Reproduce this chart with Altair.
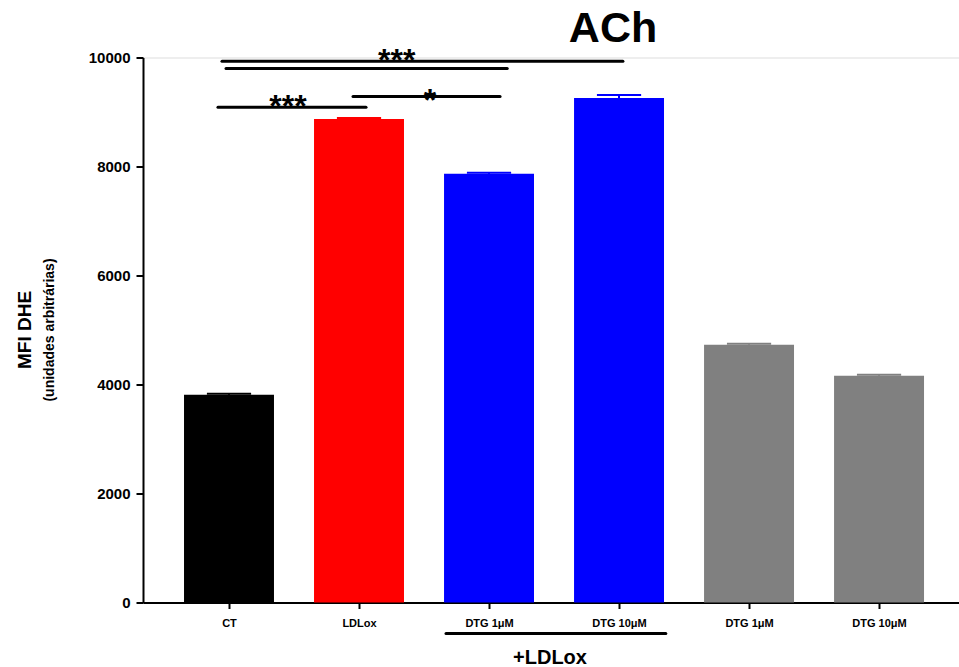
import altair as alt
import pandas as pd

# ---- data ----
labels = ["CT", "LDLox", "DTG 1μM", "DTG 10μM", "DTG 1μM", "DTG 10μM"]
means = [3810, 8870, 7865, 9255, 4730, 4160]
errors = [20, 20, 20, 55, 20, 20]
colors = ["#000000", "#ff0000", "#0000ff", "#0000ff", "#808080", "#808080"]

# significance brackets: start, end (category units), level (MFI), label
sig_x1 = [-0.054, -0.023, -0.085, 0.954]
sig_x2 = [3.03, 2.14, 1.054, 2.085]
sig_y = [9930, 9800, 9085, 9285]
star_text = ["***", "***", "*"]
star_x = [1.29, 0.454, 1.546]
star_y = [9930, 9085, 9285]
star_dy = [10, 10, 15]

FONT = "Liberation Sans"
HALF = 0.346
CAP = 0.17

pos = list(range(len(labels)))
bars = pd.DataFrame({
    "pos": pos,
    "x1": [p - HALF for p in pos],
    "x2": [p + HALF for p in pos],
    "c1": [p - CAP for p in pos],
    "c2": [p + CAP for p in pos],
    "mean": means,
    "base": [0] * len(pos),
    "top": [m + e for m, e in zip(means, errors)],
    "color": colors,
})
sig = pd.DataFrame({"x1": sig_x1, "x2": sig_x2, "y": sig_y})
stars = pd.DataFrame({"t": star_text, "x": star_x, "y": star_y, "dy": star_dy})

label_js = "[" + ",".join("'" + l + "'" for l in labels) + "]"

xscale = alt.Scale(domain=[-0.6615, 5.615], nice=False, zero=False, padding=0)
yscale = alt.Scale(domain=[0, 10000], nice=False, padding=0)

xaxis = alt.Axis(values=pos, labelExpr=label_js + "[datum.value]", title=None,
                 grid=False, domainColor="black", domainWidth=2, tickColor="black",
                 tickWidth=2, tickSize=6, labelFont=FONT, labelFontWeight="bold",
                 labelFontSize=11, labelColor="black", labelPadding=9,
                 labelOverlap=False, labelFlush=False)
yaxis = alt.Axis(values=[0, 2000, 4000, 6000, 8000, 10000], format="d", title=None,
                 grid=False, domainColor="black", domainWidth=2, tickColor="black",
                 tickWidth=2, tickSize=7, labelFont=FONT, labelFontWeight="bold",
                 labelFontSize=15, labelColor="black", labelPadding=6)

base = alt.Chart(bars)

bar_layer = base.mark_bar(clip=False).encode(
    x=alt.X("x1:Q", scale=xscale, axis=xaxis),
    x2="x2:Q",
    y=alt.Y("mean:Q", scale=yscale, axis=yaxis),
    y2="base:Q",
    color=alt.Color("color:N", scale=None),
)
err_v = base.mark_rule(strokeWidth=2).encode(
    x="pos:Q", y="mean:Q", y2="top:Q", color=alt.Color("color:N", scale=None))
err_cap = base.mark_rule(strokeWidth=2).encode(
    x="c1:Q", x2="c2:Q", y="top:Q", color=alt.Color("color:N", scale=None))

sig_lines = alt.Chart(sig).mark_rule(color="black", strokeWidth=3, strokeCap="round",
                                     clip=False).encode(
    x="x1:Q", x2="x2:Q", y="y:Q")

star_layers = []
for i in range(len(star_text)):
    star_layers.append(
        alt.Chart(stars.iloc[[i]]).mark_text(font=FONT, fontWeight="bold", fontSize=32,
                                             color="black", baseline="alphabetic",
                                             align="center", dy=star_dy[i]).encode(
            x="x:Q", y="y:Q", text="t:N"))

ann = pd.DataFrame({
    "t": ["ACh", "+LDLox", "MFI DHE", "(unidades arbitrárias)"],
    "x": [2.954, 2.469, -1.569, -1.377],
    "y": [10285, -1010, 5000, 5000],
})
title_t = alt.Chart(ann.iloc[[0]]).mark_text(font=FONT, fontWeight="bold", fontSize=43,
                                             color="black", baseline="alphabetic").encode(
    x="x:Q", y="y:Q", text="t:N")
ldl_t = alt.Chart(ann.iloc[[1]]).mark_text(font=FONT, fontWeight="bold", fontSize=20,
                                           color="black", baseline="middle").encode(
    x="x:Q", y="y:Q", text="t:N")
ytitle1 = alt.Chart(ann.iloc[[2]]).mark_text(font=FONT, fontWeight="bold", fontSize=19,
                                             color="black", baseline="middle",
                                             angle=270).encode(
    x="x:Q", y="y:Q", text="t:N")
ytitle2 = alt.Chart(ann.iloc[[3]]).mark_text(font=FONT, fontWeight="bold", fontSize=14,
                                             color="black", baseline="middle",
                                             angle=270).encode(
    x="x:Q", y="y:Q", text="t:N")

under = pd.DataFrame({"x1": [1.669], "x2": [3.36], "y": [-568]})
underline = alt.Chart(under).mark_rule(color="black", strokeWidth=3, strokeCap="round",
                                       clip=False).encode(
    x="x1:Q", x2="x2:Q", y="y:Q")

chart = alt.layer(
    bar_layer, err_v, err_cap, sig_lines, *star_layers,
    title_t, ldl_t, ytitle1, ytitle2, underline
).properties(
    width=816, height=545,
    padding={"left": 143, "top": 57.5, "right": 0, "bottom": 64},
    autosize=alt.AutoSizeParams(type="none"),
).configure_view(stroke=None).configure(background="white")

chart.save("out.html", embed_options={"renderer": "svg", "actions": False})
